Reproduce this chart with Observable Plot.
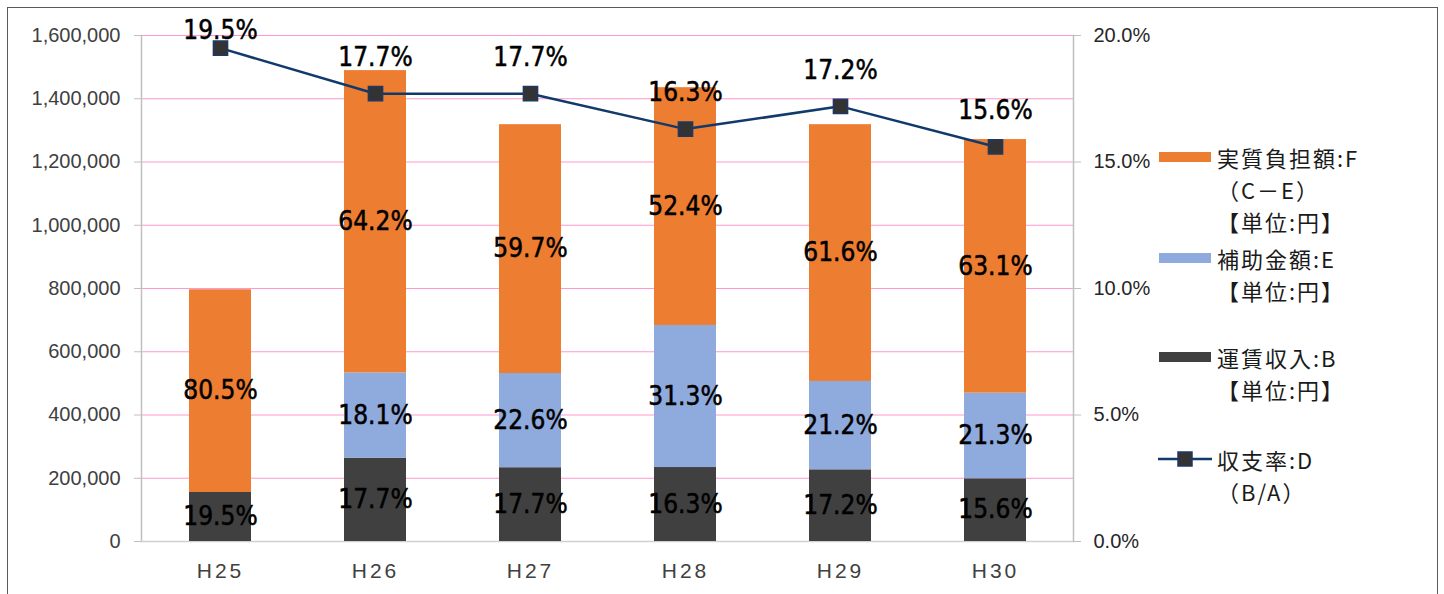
<!DOCTYPE html>
<html>
<head>
<meta charset="utf-8">
<script src="https://cdn.jsdelivr.net/npm/d3@7"></script>
<script src="https://cdn.jsdelivr.net/npm/@observablehq/plot@0.6"></script>
<style>
  html, body { margin: 0; padding: 0; background: #fff; }
  #wrap { position: relative; width: 1444px; height: 594px; overflow: hidden; background: #fff; }
  #border { position: absolute; left: 7px; top: 7px; width: 1431px; height: 620px; border: 1.5px solid #5a5a5a; box-sizing: border-box; }
  #chart { position: absolute; left: 0; top: 0; }
  #legend { position: absolute; left: 0; top: 0; font-family: "Noto Sans CJK JP", sans-serif; font-size: 22px; letter-spacing: 2px; color: #1a1a1a; }
  .item { position: absolute; left: 1159px; }
  .sw { position: absolute; left: 0; width: 52px; height: 10px; top: 11px; }
  .txt { position: absolute; left: 58px; line-height: 32px; white-space: nowrap; }
  g[aria-label="x-axis tick label"] text { letter-spacing: 3px; }
</style>
</head>
<body>
<div id="wrap">
  <div id="border"></div>
  <div id="chart"></div>
  <div id="legend"></div>
</div>
<script>
// ---- data ----
const years = ["H25", "H26", "H27", "H28", "H29", "H30"];
const fareIncome = [155000, 263500, 233300, 233900, 226700, 198300];   // 運賃収入:B
const subsidy    = [0, 269500, 297900, 449200, 279400, 270700];        // 補助金額:E
const burden     = [641000, 956000, 786800, 751900, 811900, 802000];   // 実質負担額:F
const farePct    = [19.5, 17.7, 17.7, 16.3, 17.2, 15.6];
const subsidyPct = [null, 18.1, 22.6, 31.3, 21.2, 21.3];
const burdenPct  = [80.5, 64.2, 59.7, 52.4, 61.6, 63.1];
const ratioPct   = [19.5, 17.7, 17.7, 16.3, 17.2, 15.6];               // 収支率:D
const leftTicks  = [0, 200000, 400000, 600000, 800000, 1000000, 1200000, 1400000, 1600000];
const rightTicks = [0, 5, 10, 15, 20];
const seriesNames = ["運賃収入:B", "補助金額:E", "実質負担額:F"];
const seriesColors = ["#404040", "#8faadc", "#ed7d31"];
const lineColor = "#103a6b";

// right axis (0–20%) shares the left axis (0–1,600,000) span
const pctToY = 1600000 / 20;

// ---- build tables ----
const rows = [];
years.forEach((yr, i) => {
  const vals = [fareIncome[i], subsidy[i], burden[i]];
  const pcts = [farePct[i], subsidyPct[i], burdenPct[i]];
  let acc = 0;
  vals.forEach((v, k) => {
    rows.push({year: yr, series: seriesNames[k], y1: acc, y2: acc + v, mid: acc + v / 2, pct: pcts[k]});
    acc += v;
  });
});
const barRows = rows.filter(d => d.y2 > d.y1);
const labelRows = rows.filter(d => d.pct != null);
const line = years.map((yr, i) => ({year: yr, rate: ratioPct[i]}));

const labelFont = "'DejaVu Sans Condensed', sans-serif";
const labelStyle = {fontSize: 26, fontFamily: labelFont, fill: "#000", stroke: "#000", strokeWidth: 0.5};
const fmtPct = d => d.toFixed(1) + "%";

const plot = Plot.plot({
  width: 1444,
  height: 594,
  marginLeft: 141,
  marginRight: 371,
  marginTop: 35,
  marginBottom: 53,
  style: {background: "transparent", fontFamily: "'Liberation Sans', Arial, sans-serif"},
  x: {domain: years, paddingInner: 0.6, paddingOuter: 0.3, label: null},
  y: {domain: [0, 1600000], label: null},
  color: {domain: seriesNames, range: seriesColors},
  marks: [
    Plot.gridY(leftTicks, {stroke: "#ff99cc", strokeOpacity: 1, strokeWidth: 1.2}),
    Plot.frame({anchor: "left", stroke: "#bfbfbf", strokeWidth: 1.5}),
    Plot.frame({anchor: "right", stroke: "#bfbfbf", strokeWidth: 1.5}),
    Plot.ruleY([0], {stroke: "#d0d0d0", strokeWidth: 1.5}),
    Plot.barY(barRows, {x: "year", y1: "y1", y2: "y2", fill: "series"}),
    Plot.text(labelRows, {x: "year", y: "mid", text: d => fmtPct(d.pct), ...labelStyle}),
    Plot.line(line, {x: "year", y: d => d.rate * pctToY, stroke: lineColor, strokeWidth: 2.5}),
    Plot.dot(line, {x: "year", y: d => d.rate * pctToY, symbol: "square", r: 8, fill: "#333333", stroke: "#1f3864", strokeWidth: 1.5}),
    Plot.text(line.filter((d, i) => i === 0), {x: "year", y: d => d.rate * pctToY, dy: -17, text: d => fmtPct(d.rate), ...labelStyle}),
    Plot.text(line.filter((d, i) => i > 0), {x: "year", y: d => d.rate * pctToY, dy: -36, text: d => fmtPct(d.rate), ...labelStyle}),
    Plot.axisY(leftTicks, {anchor: "left", tickSize: 7, tickPadding: 14, tickFormat: d3.format(","), fontSize: 20, stroke: "#bfbfbf", fill: "#404040", label: null}),
    Plot.axisY(rightTicks.map(p => p * pctToY), {anchor: "right", tickSize: 7, tickPadding: 13, tickFormat: d => (d / pctToY).toFixed(1) + "%", fontSize: 20, stroke: "#bfbfbf", fill: "#262626", label: null}),
    Plot.axisX({tickSize: 0, tickPadding: 22, fontSize: 21, fill: "#404040", label: null})
  ]
});
document.getElementById("chart").appendChild(plot);

// ---- legend ----
const legendItems = [
  {lines: ["実質負担額:F", "（C－E）", "【単位:円】"], color: seriesColors[2], kind: "bar", top: 141},
  {lines: ["補助金額:E", "【単位:円】"], color: seriesColors[1], kind: "bar", top: 242},
  {lines: ["運賃収入:B", "【単位:円】"], color: seriesColors[0], kind: "bar", top: 341},
  {lines: ["収支率:D", "（B/A）"], color: lineColor, kind: "line", top: 443}
];
const legend = document.getElementById("legend");
legendItems.forEach(it => {
  const div = document.createElement("div");
  div.className = "item";
  div.style.top = it.top + "px";
  if (it.kind === "bar") {
    const sw = document.createElement("div");
    sw.className = "sw";
    sw.style.background = it.color;
    div.appendChild(sw);
  } else {
    const ns = "http://www.w3.org/2000/svg";
    const svg = document.createElementNS(ns, "svg");
    svg.setAttribute("width", 56); svg.setAttribute("height", 32);
    svg.style.position = "absolute"; svg.style.left = "-1px"; svg.style.top = "0px";
    const l = document.createElementNS(ns, "line");
    l.setAttribute("x1", 0); l.setAttribute("x2", 54); l.setAttribute("y1", 16); l.setAttribute("y2", 16);
    l.setAttribute("stroke", it.color); l.setAttribute("stroke-width", 2.5);
    const r = document.createElementNS(ns, "rect");
    r.setAttribute("x", 20); r.setAttribute("y", 9); r.setAttribute("width", 14); r.setAttribute("height", 14);
    r.setAttribute("fill", "#333333"); r.setAttribute("stroke", "#1f3864"); r.setAttribute("stroke-width", 1.5);
    svg.appendChild(l); svg.appendChild(r);
    div.appendChild(svg);
  }
  const t = document.createElement("div");
  t.className = "txt";
  t.innerHTML = it.lines.join("<br>");
  div.appendChild(t);
  legend.appendChild(div);
});
</script>
</body>
</html>
